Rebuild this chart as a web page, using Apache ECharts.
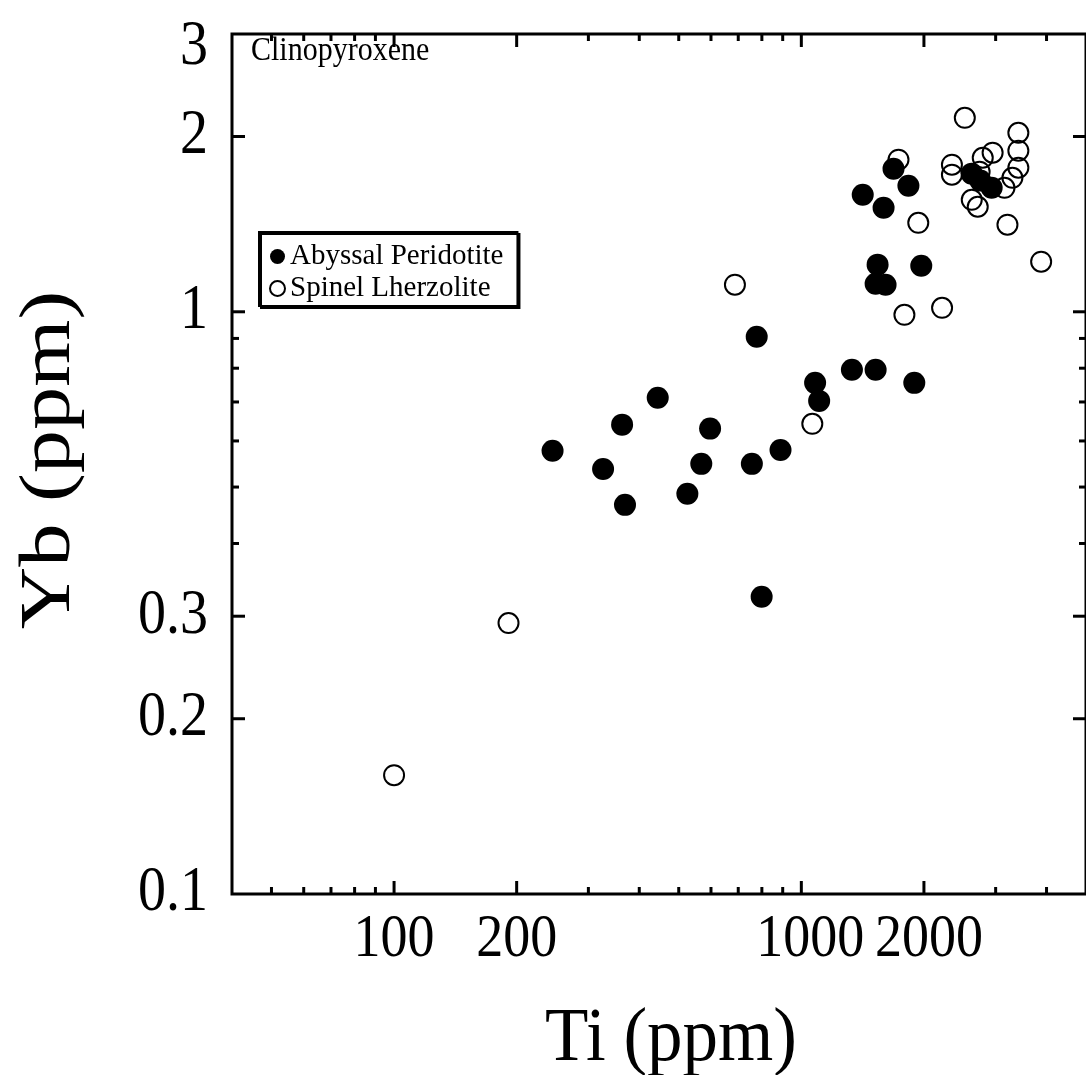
<!DOCTYPE html>
<html><head><meta charset="utf-8">
<script src="https://cdn.jsdelivr.net/npm/echarts@6/dist/echarts.min.js"></script>
<style>html,body{margin:0;padding:0;background:#fff}#c{width:1086px;height:1075px}</style>
</head><body><div id="c"></div>
<script>
// ---- data (Ti ppm, Yb ppm) ----
const abyssalTi = [245, 326, 363, 369, 444, 525, 568, 597, 756, 777, 799, 889, 1081, 1106, 1331, 1415, 1522, 1539, 1522, 1592, 1610, 1684, 1832, 1894, 1970, 2620, 2750, 2933];
const abyssalYb = [0.577, 0.537, 0.640, 0.466, 0.712, 0.487, 0.548, 0.630, 0.548, 0.906, 0.324, 0.579, 0.755, 0.703, 0.795, 1.589, 0.795, 1.205, 1.117, 1.509, 1.113, 1.761, 1.646, 0.755, 1.200, 1.727, 1.680, 1.633];
const spinelTi = [100, 191, 687, 1064, 1732, 1791, 1937, 2216, 2343, 2343, 2520, 2621, 2711, 2789, 2949, 2740, 3154, 3207, 3298, 3411, 3411, 3411, 3880];
const spinelYb = [0.160, 0.292, 1.113, 0.642, 1.825, 0.988, 1.422, 1.016, 1.789, 1.720, 2.154, 1.557, 1.515, 1.839, 1.876, 1.740, 1.633, 1.411, 1.699, 1.768, 1.891, 2.030, 1.219];
// ---- axes ----
const X_MIN = 40, X_MAX = 5000, Y_MIN = 0.1, Y_MAX = 3;
const xMajorTicks = [100, 200, 1000, 2000];
const xMinorTicks = [50, 60, 70, 80, 90, 300, 400, 500, 600, 700, 800, 900, 3000, 4000];
const yMajorTicks = [0.2, 0.3, 1, 2];
const yMinorTicks = [0.4, 0.5, 0.6, 0.7, 0.8, 0.9];
const xLabelValues = [100, 200, 1000, 2000];
const xTickLabels = ['100', '200', '1000', '2000'];
const yLabelValues = [0.1, 0.2, 0.3, 1, 2, 3];
const yTickLabels = ['0.1', '0.2', '0.3', '1', '2', '3'];
const seriesNames = ['Abyssal Peridotite', 'Spinel Lherzolite'];
const panelTitle = 'Clinopyroxene';
const xTitle = 'Ti (ppm)';
const yTitle = 'Yb (ppm)';

// layout-only: small horizontal nudges of the crowded x labels (pixels)
const xLabelNudge = {1000: 9, 2000: 5};

const FONT = '"Liberation Serif", "Times New Roman", serif';
const chart = echarts.init(document.getElementById('c'), null, {renderer: 'canvas'});

function zip(a, b) { return a.map((v, i) => [v, b[i]]); }
const xTickData = xMajorTicks.map(v => [v, Y_MIN, 1]).concat(xMinorTicks.map(v => [v, Y_MIN, 0]));
const yTickData = yMajorTicks.map(v => [X_MIN, v, 1]).concat(yMinorTicks.map(v => [X_MIN, v, 0]));
const tickStyle = {stroke: '#000', lineWidth: 3};

function ln(x1, y1, x2, y2) { return {type: 'line', shape: {x1, y1, x2, y2}, style: tickStyle}; }

function txt(x, y, text, font, align, sy) {
  return {type: 'text', x: x, y: y, scaleY: sy,
    style: {text: text, font: font, fill: '#000', align: align, verticalAlign: 'middle', textAlign: align, textVerticalAlign: 'middle'}};
}

chart.setOption({
  animation: false,
  backgroundColor: '#fff',
  grid: {left: 232, top: 34, width: 862, height: 860, show: true, borderColor: '#000', borderWidth: 3, backgroundColor: 'transparent'},
  xAxis: {type: 'log', logBase: 10, min: X_MIN, max: X_MAX,
    axisLine: {show: false}, axisTick: {show: false}, axisLabel: {show: false}, splitLine: {show: false}},
  yAxis: {type: 'log', logBase: 10, min: Y_MIN, max: Y_MAX,
    axisLine: {show: false}, axisTick: {show: false}, axisLabel: {show: false}, splitLine: {show: false}},
  legend: {
    data: seriesNames, orient: 'vertical', left: 259, top: 232,
    padding: [10, 14, 3, 10], itemGap: 3, itemWidth: 15, itemHeight: 15, itemTextGap: 17,
    textStyle: {fontFamily: FONT, fontSize: 29, color: '#000', lineHeight: 27},
    borderColor: '#000', borderWidth: 2, backgroundColor: '#fff',
    shadowColor: '#000', shadowOffsetX: 2, shadowOffsetY: 2, shadowBlur: 0,
    selectedMode: false
  },
  graphic: [
    {type: 'text', x: 251, y: 51, scaleY: 1.15,
      style: {text: panelTitle, font: '30px ' + FONT, fill: '#000', textAlign: 'left', textVerticalAlign: 'middle', align: 'left', verticalAlign: 'middle'}},
    {type: 'text', x: 671, y: 1040, scaleY: 1.08,
      style: {text: xTitle, font: '71px ' + FONT, fill: '#000', textAlign: 'center', textVerticalAlign: 'middle', align: 'center', verticalAlign: 'middle'}},
    {type: 'text', x: 50, y: 460, rotation: Math.PI / 2, scaleX: 1.2,
      style: {text: yTitle, font: '72px ' + FONT, fill: '#000', textAlign: 'center', textVerticalAlign: 'middle', align: 'center', verticalAlign: 'middle'}}
  ],
  series: [
    {name: seriesNames[1], type: 'scatter', data: zip(spinelTi, spinelYb), symbol: 'circle', symbolSize: 20,
      itemStyle: {color: 'rgba(255,255,255,0)', borderColor: '#000', borderWidth: 2, opacity: 1}, z: 3},
    {name: seriesNames[0], type: 'scatter', data: zip(abyssalTi, abyssalYb), symbol: 'circle', symbolSize: 22,
      itemStyle: {color: '#000', borderColor: '#000', borderWidth: 0, opacity: 1}, z: 4},
    {type: 'custom', silent: true, z: 5, data: xTickData, encode: {x: 0, y: 1},
      renderItem: function (p, api) {
        const v = api.value(0), len = api.value(2) ? 13 : 7;
        const b = api.coord([v, Y_MIN]), t = api.coord([v, Y_MAX]);
        return {type: 'group', children: [ln(b[0], b[1], b[0], b[1] - len), ln(t[0], t[1], t[0], t[1] + len)]};
      }},
    {type: 'custom', silent: true, z: 5, data: yTickData, encode: {x: 0, y: 1},
      renderItem: function (p, api) {
        const v = api.value(1), len = api.value(2) ? 13 : 7;
        const l = api.coord([X_MIN, v]), r = api.coord([X_MAX, v]);
        return {type: 'group', children: [ln(l[0], l[1], l[0] + len, l[1]), ln(r[0], r[1], r[0] - len, r[1])]};
      }},
    {type: 'custom', silent: true, z: 5, data: xLabelValues.map(v => [v, Y_MIN]), encode: {x: 0, y: 1},
      renderItem: function (p, api) {
        const v = api.value(0);
        const c = api.coord([v, Y_MIN]);
        return txt(c[0] + (xLabelNudge[v] || 0), c[1] + 46, xTickLabels[p.dataIndex], '54px ' + FONT, 'center', 1.12);
      }},
    {type: 'custom', silent: true, z: 5, data: yLabelValues.map(v => [X_MIN, v]), encode: {x: 0, y: 1},
      renderItem: function (p, api) {
        const c = api.coord([X_MIN, api.value(1)]);
        const top = api.coord([X_MIN, Y_MAX])[1];
        return txt(c[0] - 24, Math.max(c[1], top + 14), yTickLabels[p.dataIndex], '56px ' + FONT, 'right', 1.12);
      }}
  ]
});
</script>
</body></html>
